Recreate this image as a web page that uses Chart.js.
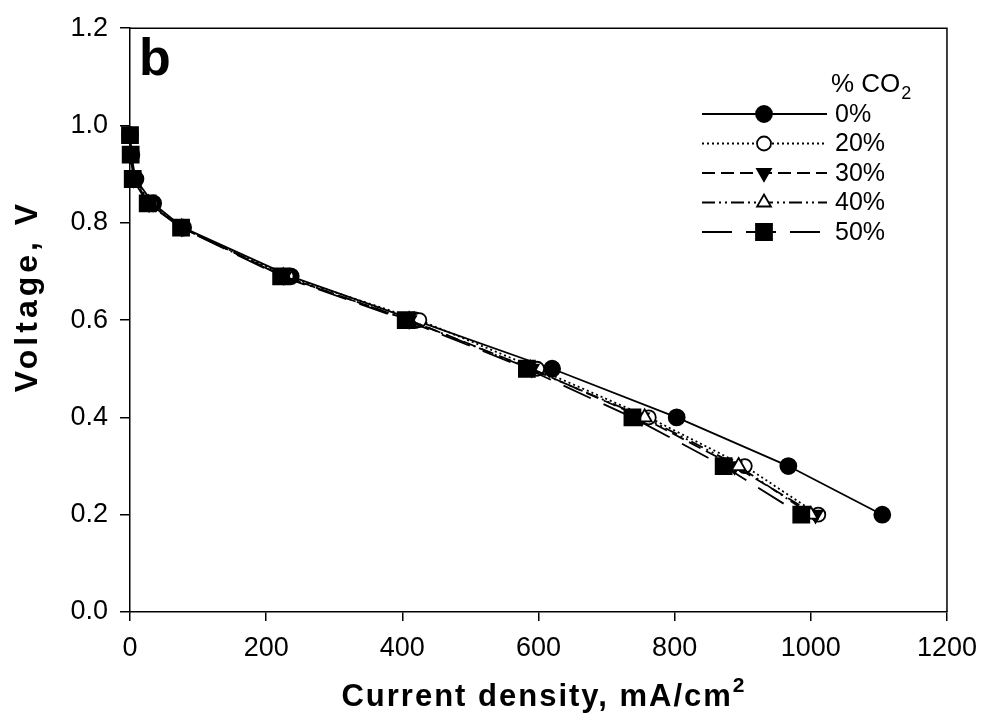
<!DOCTYPE html>
<html>
<head>
<meta charset="utf-8">
<script src="https://cdn.jsdelivr.net/npm/chart.js@4.4.1/dist/chart.umd.min.js"></script>
<style>
  html, body { margin: 0; padding: 0; background: #fff; }
  #wrap { width: 988px; height: 720px; position: relative; }
</style>
</head>
<body>
<div id="wrap"><canvas id="c" width="988" height="720"></canvas></div>
<script>
// ---- Data ----
const voltages = [0.98, 0.94, 0.89, 0.84, 0.79, 0.69, 0.60, 0.50, 0.40, 0.30, 0.20];
const seriesNames = ['0%', '20%', '30%', '40%', '50%'];
const current0  = [0, 2, 8, 34, 78, 236, 418, 620, 803, 967, 1105];
const current20 = [0, 2, 6, 30, 76, 230, 425, 598, 762, 903, 1011];
const current30 = [0, 1, 5, 28, 76, 226, 410, 590, 752, 888, 1007];
const current40 = [0, 1, 5, 27, 76, 225, 410, 588, 756, 894, 1000];
const current50 = [0, 1, 4, 26, 75, 222, 405, 583, 738, 872, 986];
const xTicks = [0, 200, 400, 600, 800, 1000, 1200];
const yTicks = [0.0, 0.2, 0.4, 0.6, 0.8, 1.0, 1.2];
const xTitle = 'Current density, mA/cm';
const xTitleSup = '2';
const yTitle = 'Voltage, V';
const legendTitle = '% CO';
const legendTitleSub = '2';
const panelLetter = 'b';

const allCurrents = [current0, current20, current30, current40, current50];

const styles = [
  { dash: [], pointStyle: 'circle', radius: 8, fill: '#000' },
  { dash: [2, 3], pointStyle: 'circle', radius: 7, fill: '#fff' },
  { dash: [13, 6], pointStyle: 'triangle', rotation: 180, radius: 8, fill: '#000' },
  { dash: [13, 4, 2, 4, 2, 4], pointStyle: 'triangle', radius: 8, fill: '#fff' },
  { dash: [30, 14], pointStyle: 'rect', radius: 11.3, fill: '#000' }
];

const datasets = seriesNames.map((name, i) => ({
  label: name,
  data: allCurrents[i].map((x, k) => ({ x: x, y: voltages[k] })),
  borderColor: '#000',
  borderWidth: 1.8,
  borderDash: styles[i].dash,
  pointStyle: styles[i].pointStyle,
  rotation: styles[i].rotation || 0,
  pointRadius: styles[i].radius,
  pointHoverRadius: styles[i].radius,
  pointBackgroundColor: styles[i].fill,
  pointBorderColor: '#000',
  pointBorderWidth: 1.8,
  showLine: true,
  tension: 0,
  clip: false,
  order: 4 - i
}));

const FONT = "'Liberation Sans', Arial, sans-serif";

function drawMarker(ctx, style, x, y) {
  ctx.save();
  ctx.fillStyle = style.fill;
  ctx.strokeStyle = '#000';
  ctx.lineWidth = 1.8;
  ctx.setLineDash([]);
  ctx.beginPath();
  const r = style.radius;
  if (style.pointStyle === 'circle') {
    ctx.arc(x, y, r, 0, Math.PI * 2);
  } else if (style.pointStyle === 'rect') {
    const s = r * Math.SQRT1_2;
    ctx.rect(x - s, y - s, 2 * s, 2 * s);
  } else if (style.pointStyle === 'triangle') {
    const rot = (style.rotation || 0) * Math.PI / 180;
    for (let k = 0; k < 3; k++) {
      const a = rot - Math.PI / 2 + k * 2 * Math.PI / 3;
      const px = x + Math.cos(a) * r, py = y + Math.sin(a) * r;
      if (k === 0) ctx.moveTo(px, py); else ctx.lineTo(px, py);
    }
    ctx.closePath();
  }
  ctx.fill();
  ctx.stroke();
  ctx.restore();
}

const extras = {
  id: 'extras',
  beforeDatasetsDraw(chart) {
    const { ctx, chartArea: a } = chart;
    ctx.save();
    ctx.strokeStyle = '#000';
    ctx.lineWidth = 1.5;
    ctx.beginPath();
    ctx.moveTo(a.left, a.top);
    ctx.lineTo(a.right, a.top);
    ctx.lineTo(a.right, a.bottom);
    ctx.stroke();
    ctx.restore();
  },
  afterDraw(chart) {
    const { ctx } = chart;
    ctx.save();
    ctx.fillStyle = '#000';

    // panel letter
    ctx.font = "bold 52px " + FONT;
    ctx.textBaseline = 'alphabetic';
    ctx.textAlign = 'left';
    ctx.fillText(panelLetter, 139, 75);

    // x axis title with superscript
    ctx.font = "bold 31px " + FONT;
    ctx.letterSpacing = '2px';
    const wMain = ctx.measureText(xTitle).width;
    ctx.font = "bold 21px " + FONT;
    ctx.letterSpacing = '0px';
    const wSup = ctx.measureText(xTitleSup).width;
    const total = wMain + wSup;
    const cx = 543;
    const sx = cx - total / 2;
    ctx.font = "bold 31px " + FONT;
    ctx.letterSpacing = '2px';
    ctx.fillText(xTitle, sx, 706);
    ctx.font = "bold 21px " + FONT;
    ctx.letterSpacing = '0px';
    ctx.fillText(xTitleSup, sx + wMain, 692);

    // y axis title (rotated)
    ctx.save();
    ctx.translate(37, 298);
    ctx.rotate(-Math.PI / 2);
    ctx.font = "bold 32px " + FONT;
    ctx.letterSpacing = '4px';
    ctx.textAlign = 'left';
    const wy = ctx.measureText(yTitle).width - 4;
    ctx.fillText(yTitle, -wy / 2, 0);
    ctx.restore();

    // legend title "% CO2"
    ctx.letterSpacing = '0px';
    ctx.textAlign = 'left';
    ctx.font = "26px " + FONT;
    ctx.fillText(legendTitle, 831, 92);
    const w = ctx.measureText(legendTitle).width;
    ctx.font = "18px " + FONT;
    ctx.fillText(legendTitleSub, 831 + w + 1, 99);

    // legend rows
    const x0 = 702, x1 = 827, xm = 764;
    chart.data.datasets.forEach((ds, i) => {
      const y = 114 + i * 29.5;
      ctx.save();
      ctx.strokeStyle = '#000';
      ctx.lineWidth = ds.borderWidth;
      ctx.setLineDash(ds.borderDash);
      ctx.beginPath();
      ctx.moveTo(x0, y);
      ctx.lineTo(x1, y);
      ctx.stroke();
      ctx.restore();
      drawMarker(ctx, styles[i], xm, y);
      ctx.fillStyle = '#000';
      ctx.font = "25px " + FONT;
      ctx.textBaseline = 'middle';
      ctx.fillText(ds.label, 835, y + 1);
    });
    ctx.restore();
  }
};

new Chart(document.getElementById('c'), {
  type: 'scatter',
  data: { datasets },
  options: {
    responsive: false,
    animation: false,
    events: [],
    layout: { padding: { top: 21, right: 39, left: 0, bottom: 0 } },
    plugins: {
      legend: { display: false },
      tooltip: { enabled: false }
    },
    scales: {
      x: {
        type: 'linear',
        min: xTicks[0],
        max: xTicks[xTicks.length - 1],
        afterBuildTicks(scale) { scale.ticks = xTicks.map(v => ({ value: v })); },
        afterFit(scale) { scale.height = 108; },
        border: { display: true, color: '#000', width: 1.5 },
        grid: { display: true, drawOnChartArea: false, drawTicks: true, tickLength: 9, color: '#000', lineWidth: 1.5 },
        ticks: {
          color: '#000',
          font: { family: FONT, size: 27 },
          padding: 11,
          maxRotation: 0,
          callback: v => String(v)
        },
        title: { display: false }
      },
      y: {
        type: 'linear',
        min: yTicks[0],
        max: yTicks[yTicks.length - 1],
        afterBuildTicks(scale) { scale.ticks = yTicks.map(v => ({ value: v })); },
        afterFit(scale) { scale.width = 130; },
        border: { display: true, color: '#000', width: 1.5 },
        grid: { display: true, drawOnChartArea: false, drawTicks: true, tickLength: 10, color: '#000', lineWidth: 1.5 },
        ticks: {
          color: '#000',
          font: { family: FONT, size: 27 },
          padding: 12,
          callback: v => Number(v).toFixed(1)
        },
        title: { display: false }
      }
    }
  },
  plugins: [extras]
});
</script>
</body>
</html>
